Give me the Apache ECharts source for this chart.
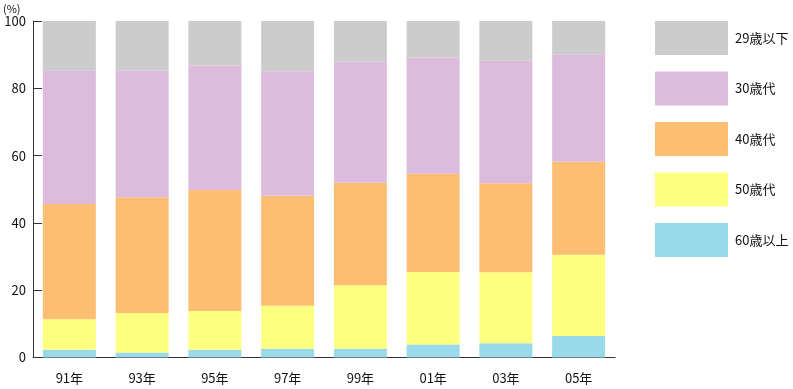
<!DOCTYPE html>
<html><head><meta charset="utf-8">
<script src="https://cdn.jsdelivr.net/npm/echarts@6/dist/echarts.min.js"></script>
<style>html,body{margin:0;padding:0;background:#fff}#c{width:793px;height:389px}</style>
</head><body><div id="c"></div>
<script>
var categories = ['91年','93年','95年','97年','99年','01年','03年','05年'];
var age60plus = [2.3, 1.5, 2.3, 2.6, 2.6, 3.9, 4.2, 6.4];
var age50s    = [9.1, 11.7, 11.5, 12.8, 18.9, 21.5, 21.1, 24.1];
var age40s    = [34.2, 34.4, 36.0, 32.7, 30.4, 29.2, 26.5, 27.7];
var age30s    = [39.8, 37.6, 36.9, 37.0, 36.0, 34.5, 36.4, 31.9];
var age29under= [14.6, 14.8, 13.3, 14.9, 12.1, 10.9, 11.8, 9.9];
var yTicks = [0, 20, 40, 60, 80, 100];

var font = '"Noto Sans CJK JP", sans-serif';
var chart = echarts.init(document.getElementById('c'));
function s(name, data, color) {
  return {name: name, type: 'bar', stack: 'a', data: data, barWidth: 53,
    itemStyle: {color: color}, emphasis: {disabled: true}};
}
chart.setOption({
  animation: false,
  grid: {left: 31.5, right: 178, top: 21, bottom: 31.5},
  legend: {
    orient: 'vertical', left: 650, top: 16, itemWidth: 73, itemHeight: 34, itemGap: 16.5,
    icon: 'rect',
    data: ['29歳以下','30歳代','40歳代','50歳代','60歳以上'],
    textStyle: {fontFamily: font, fontSize: 13, color: '#111', padding: [8, 0, 0, 2]},
    selectedMode: false
  },
  xAxis: {
    type: 'category', data: categories,
    axisLine: {lineStyle: {color: '#333', width: 1}},
    axisTick: {inside: true, length: 8, lineStyle: {color: '#333'}},
    axisLabel: {fontFamily: font, fontSize: 13, color: '#111', margin: 14}
  },
  yAxis: {
    type: 'value', min: 0, max: 100, interval: 20,
    name: '(%)', nameLocation: 'end', nameGap: 6,
    nameTextStyle: {fontFamily: font, fontSize: 11, color: '#111', align: 'left', padding: [0, 0, 0, -30]},
    splitLine: {show: false},
    axisLine: {show: true, lineStyle: {color: '#333', width: 1}},
    axisTick: {show: true, inside: true, length: 9, lineStyle: {color: '#333'}},
    axisLabel: {fontFamily: font, fontSize: 13, color: '#111', margin: 7,
      formatter: function (v) { return yTicks.indexOf(v) >= 0 ? String(v) : ''; }}
  },
  series: [
    s('60歳以上', age60plus, '#9ad9e8'),
    s('50歳代', age50s, '#feff80'),
    s('40歳代', age40s, '#fcbe73'),
    s('30歳代', age30s, '#ddbbdd'),
    s('29歳以下', age29under, '#cccccc')
  ]
});
</script></body></html>
